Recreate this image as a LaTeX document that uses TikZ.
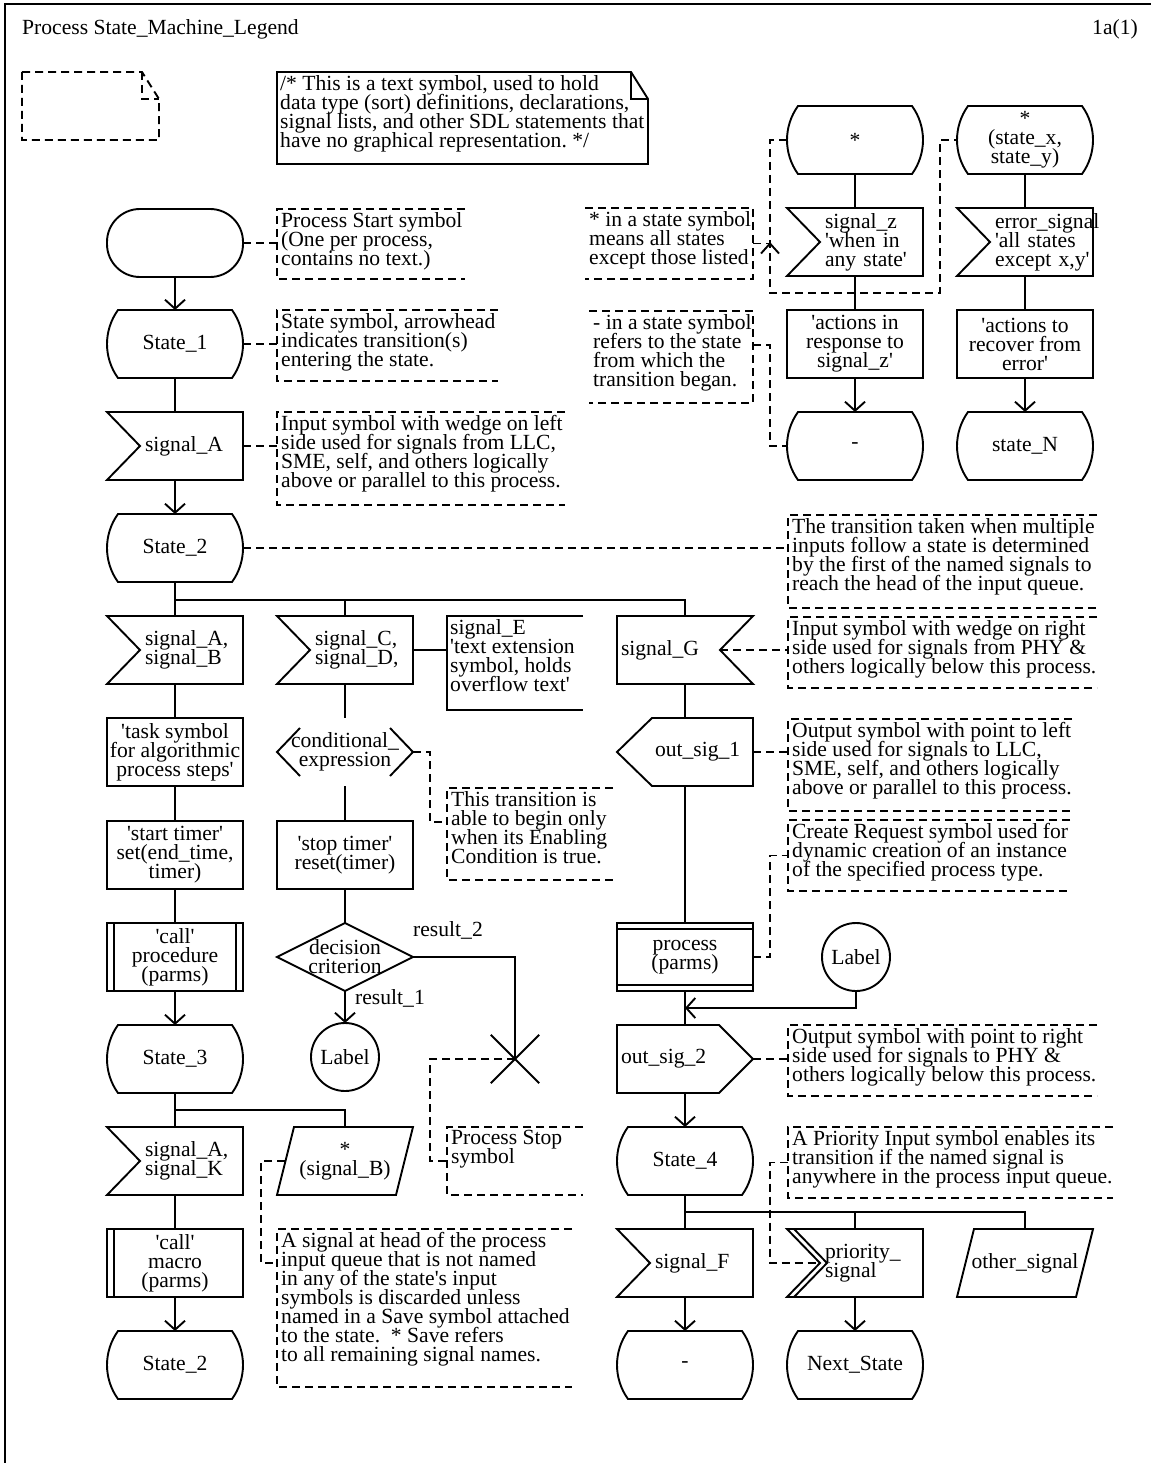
\documentclass[tikz,border=0pt]{standalone}
\usepackage{fontspec}
\setmainfont{Liberation Serif}
\usetikzlibrary{arrows.meta,positioning,calc}
\frenchspacing
\newcommand{\sdlfont}{\fontsize{21.6pt}{19pt}\selectfont\lineskiplimit=-40pt\relax}
\newcommand{\sq}{\textquotesingle}
\tikzset{
  sdlsym/.style={
    rectangle,
    minimum width=136pt,
    minimum height=68pt,
    inner sep=0pt,
    outer sep=0pt,
    align=center,
    font=\sdlfont
  },
  taskbox/.style={sdlsym, draw, line width=1.9pt},
  intext/.style={text width=136pt, align=left, execute at begin node={\leftskip=#1\relax}},
  labelcirc/.style={circle, draw, line width=1.9pt, minimum size=68pt, inner sep=0pt, outer sep=0pt, font=\sdlfont},
  boxarea/.style 2 args={rectangle, anchor=north west, minimum width=#1, minimum height=#2, inner sep=0pt, outer sep=0pt},
  notetext/.style={anchor=north west, align=left, font=\sdlfont, inner xsep=4pt, inner ysep=3pt},
  plaintext/.style={font=\sdlfont, inner sep=0pt},
  sdlline/.style={line width=1.9pt},
  flow/.style={sdlline, -{Straight Barb[length=9pt, width=20pt]}},
  cmt/.style={sdlline, dash pattern=on 8pt off 5pt}
}

\begin{document}
\begin{tikzpicture}[x=1pt, y=-1pt, node distance=34pt]
\useasboundingbox (0,0) rectangle (1151,1463);
\draw[line width=2.4pt] (5,1463) -- (5,4) -- (1151,4);

% heading
\node[plaintext, anchor=west] (title) at (22,29) {Process State\_Machine\_Legend};
\node[plaintext, anchor=east] (page) at (1138,29) {1a(1)};

% text symbols
\node[boxarea={137pt}{68pt}] (blank) at (22,72) {};
\node[boxarea={371pt}{92pt}] (txtsym) at (277,72) {};
\node[notetext, inner xsep=3pt] (txtsymT) at (txtsym.north west) {/* This is a text symbol, used to hold\\data type (sort) definitions, declarations,\\signal lists, and other SDL statements that\\have no graphical representation. */};

% left column
\node[sdlsym, draw, sdlline, rounded corners=33pt] (start) at (175,243) {};
\node[sdlsym, below=33pt of start] (state1) {State\_1};
\node[sdlsym, intext=38pt, below=of state1] (sigA) {signal\_A};
\node[sdlsym, below=of sigA] (state2) {State\_2};
\node[sdlsym, intext=38pt, below=of state2] (sigAB) {signal\_A,\\signal\_B};
\node[taskbox, below=of sigAB] (task) {\sq task symbol\\for algorithmic\\process steps\sq};
\node[taskbox, below=35pt of task] (timer) {\sq start timer\sq\\set(end\_time,\\timer)};
\node[taskbox, below=of timer] (call) {\sq call\sq\\procedure\\(parms)};
\node[sdlsym, below=of call] (state3) {State\_3};
\node[sdlsym, intext=38pt, below=of state3] (sigAK) {signal\_A,\\signal\_K};
\node[taskbox, below=of sigAK] (macro) {\sq call\sq\\macro\\(parms)};
\node[sdlsym, below=of macro] (state2b) {State\_2};

% middle column
\node[sdlsym, intext=38pt] (sigCD) at (345,650) {signal\_C,\\signal\_D,};
\node[sdlsym, below=of sigCD] (enab) {conditional\_\\expression};
\node[taskbox, below=35pt of enab] (stopt) {\sq stop timer\sq\\reset(timer)};
\node[sdlsym, below=of stopt] (dec) {decision\\criterion};
\node[labelcirc, below=32pt of dec] (lab1) {Label};
\node[minimum size=48pt, inner sep=0pt] (stop) at (515,1059) {};
\node[sdlsym] (save) at (345,1161) {*\\(signal\_B)};
\node[plaintext, anchor=west] (res2) at ([yshift=27pt]dec.east) {result\_2};
\node[plaintext, anchor=west] (res1) at ([xshift=10pt,yshift=-7pt]dec.south) {result\_1};
\node[boxarea={136pt}{94pt}] (ext) at ([xshift=34pt]sigCD.north east) {};
\node[notetext, inner xsep=3pt] (extT) at (ext.north west) {signal\_E\\\sq text extension\\symbol, holds\\overflow text\sq};

% right column
\node[sdlsym, intext=4pt] (sigG) at (685,650) {signal\_G};
\node[sdlsym, intext=38pt, below=of sigG] (out1) {out\_sig\_1};
\node[taskbox] (create) at (685,957) {process\\(parms)};
\node[labelcirc] (labR) at (856,957) {Label};
\node[sdlsym, intext=4pt, below=of create] (out2) {out\_sig\_2};
\node[sdlsym, below=of out2] (state4) {State\_4};
\node[sdlsym, intext=38pt, below=of state4] (sigF) {signal\_F};
\node[sdlsym, below=of sigF] (stDash2) {-};
\node[sdlsym, intext=38pt, right=of sigF] (prio) {priority\_\\signal};
\node[sdlsym, below=of prio] (nextSt) {Next\_State};
\node[sdlsym, right=of prio] (other) {other\_signal};

% top right
\node[sdlsym] (stStar) at (855,140) {*};
\node[sdlsym, intext=38pt, below=of stStar] (sigZ) {signal\_z\\\sq when in\\any state\sq};
\node[taskbox, below=of sigZ] (act1) {\sq actions in\\response to\\signal\_z\sq};
\node[sdlsym, below=of act1] (stDash) {-};
\node[sdlsym, right=of stStar] (stXY) {*\\(state\_x,\\state\_y)};
\node[sdlsym, intext=38pt, below=of stXY] (errSig) {error\_signal\\\sq all states\\except x,y\sq};
\node[taskbox, below=of errSig] (act2) {\sq actions to\\recover from\\error\sq};
\node[sdlsym, below=of act2] (stN) {state\_N};

% comments
\node[boxarea={188pt}{70pt}] (cStart) at (277,209) {};
\node[notetext] (cStartT) at (cStart.north west) {Process Start symbol\\(One per process,\\contains no text.)};
\node[boxarea={221pt}{71pt}] (cState) at (277,310) {};
\node[notetext] (cStateT) at (cState.north west) {State symbol, arrowhead\\indicates transition(s)\\entering the state.};
\node[boxarea={288pt}{93pt}] (cInL) at (277,412) {};
\node[notetext] (cInLT) at (cInL.north west) {Input symbol with wedge on left\\side used for signals from LLC,\\SME, self, and others logically\\above or parallel to this process.};
\node[boxarea={309pt}{93pt}] (cTrans) at (788,515) {};
\node[notetext] (cTransT) at (cTrans.north west) {The transition taken when multiple\\inputs follow a state is determined\\by the first of the named signals to\\reach the head of the input queue.};
\node[boxarea={309pt}{71pt}] (cInR) at (788,617) {};
\node[notetext] (cInRT) at (cInR.north west) {Input symbol with wedge on right\\side used for signals from PHY \&\\others logically below this process.};
\node[boxarea={284pt}{92pt}] (cOutL) at (788,719) {};
\node[notetext] (cOutLT) at (cOutL.north west) {Output symbol with point to left\\side used for signals to LLC,\\SME, self, and others logically\\above or parallel to this process.};
\node[boxarea={282pt}{71pt}] (cCreate) at (788,820) {};
\node[notetext] (cCreateT) at (cCreate.north west) {Create Request symbol used for\\dynamic creation of an instance\\of the specified process type.};
\node[boxarea={309pt}{71pt}] (cOutR) at (788,1025) {};
\node[notetext] (cOutRT) at (cOutR.north west) {Output symbol with point to right\\side used for signals to PHY \&\\others logically below this process.};
\node[boxarea={325pt}{71pt}] (cPrio) at (788,1127) {};
\node[notetext] (cPrioT) at (cPrio.north west) {A Priority Input symbol enables its\\transition if the named signal is\\anywhere in the process input queue.};
\node[boxarea={168pt}{71pt}] (cAll) at (585,208) {};
\node[notetext] (cAllT) at (cAll.north west) {* in a state symbol\\means all states\\except those listed};
\node[boxarea={164pt}{92pt}] (cDash) at (589,311) {};
\node[notetext] (cDashT) at (cDash.north west) {- in a state symbol\\refers to the state\\from which the\\transition began.};
\node[boxarea={166pt}{92pt}] (cEnab) at (447,788) {};
\node[notetext] (cEnabT) at (cEnab.north west) {This transition is\\able to begin only\\when its Enabling\\Condition is true.};
\node[boxarea={136pt}{68pt}] (cStop) at (447,1127) {};
\node[notetext] (cStopT) at (cStop.north west) {Process Stop\\symbol};
\node[boxarea={295pt}{158pt}] (cSave) at (277,1229) {};
\node[notetext] (cSaveT) at (cSave.north west) {A signal at head of the process\\input queue that is not named\\in any of the state\sq s input\\symbols is discarded unless\\named in a Save symbol attached\\to the state.\ \ * Save refers\\to all remaining signal names.};

% symbol outlines
\foreach \n in {state1,state2,state3,state2b,state4,stDash2,nextSt,stStar,stXY,stDash,stN}
  \draw[sdlline] ([xshift=11pt]\n.north west) -- ([xshift=-11pt]\n.north east)
    .. controls ([xshift=-3.8pt,yshift=-9.9pt]\n.north east) and ([yshift=12pt]\n.east) .. (\n.east)
    .. controls ([yshift=-12pt]\n.east) and ([xshift=-3.8pt,yshift=9.9pt]\n.south east) .. ([xshift=-11pt]\n.south east)
    -- ([xshift=11pt]\n.south west)
    .. controls ([xshift=3.8pt,yshift=9.9pt]\n.south west) and ([yshift=-12pt]\n.west) .. (\n.west)
    .. controls ([yshift=12pt]\n.west) and ([xshift=3.8pt,yshift=-9.9pt]\n.north west) .. ([xshift=11pt]\n.north west) -- cycle;
\foreach \n in {sigA,sigAB,sigCD,sigAK,sigF,sigZ,errSig,prio}
  \draw[sdlline] (\n.north west) -- (\n.north east) -- (\n.south east) -- (\n.south west) -- ([xshift=33pt]\n.west) -- cycle;
\draw[sdlline] ([xshift=7pt]prio.north west) -- ([xshift=40pt]prio.west) -- ([xshift=7pt]prio.south west);
\draw[sdlline] (sigG.north west) -- (sigG.north east) -- ([xshift=-33pt]sigG.east) -- (sigG.south east) -- (sigG.south west) -- cycle;
\draw[sdlline] ([xshift=35pt]out1.north west) -- (out1.north east) -- (out1.south east) -- ([xshift=35pt]out1.south west) -- (out1.west) -- cycle;
\draw[sdlline] (out2.north west) -- ([xshift=-34pt]out2.north east) -- (out2.east) -- ([xshift=-34pt]out2.south east) -- (out2.south west) -- cycle;
\foreach \n in {save,other}
  \draw[sdlline] ([xshift=17pt]\n.north west) -- (\n.north east) -- ([xshift=-17pt]\n.south east) -- (\n.south west) -- cycle;
\draw[sdlline] ([xshift=23pt,yshift=24pt]enab.west) -- (enab.west) -- ([xshift=23pt,yshift=-24pt]enab.west)
  ([xshift=-23pt,yshift=24pt]enab.east) -- (enab.east) -- ([xshift=-23pt,yshift=-24pt]enab.east);
\draw[sdlline] (dec.north) -- (dec.east) -- (dec.south) -- (dec.west) -- cycle;
\draw[sdlline] (stop.north west) -- (stop.south east) (stop.north east) -- (stop.south west);
\draw[sdlline] ([xshift=7pt]call.north west) -- ([xshift=7pt]call.south west)
  ([xshift=-7pt]call.north east) -- ([xshift=-7pt]call.south east);
\draw[sdlline] ([xshift=7pt]macro.north west) -- ([xshift=7pt]macro.south west);
\draw[sdlline] ([yshift=-6pt]create.north west) -- ([yshift=-6pt]create.north east)
  ([yshift=6pt]create.south west) -- ([yshift=6pt]create.south east);
\draw[sdlline] (ext.north east) -- (ext.north west) -- (ext.south west) -- (ext.south east);
\draw[sdlline] (txtsym.north west) -- ([xshift=-17pt]txtsym.north east) -- ([yshift=-27pt]txtsym.north east) -- (txtsym.south east) -- (txtsym.south west) -- cycle;
\draw[sdlline] ([xshift=-17pt]txtsym.north east) -- ([xshift=-17pt,yshift=-27pt]txtsym.north east) -- ([yshift=-27pt]txtsym.north east);
\draw[cmt] (blank.north west) -- ([xshift=-17pt]blank.north east) -- ([yshift=-27pt]blank.north east) -- (blank.south east) -- (blank.south west) -- cycle;
\draw[cmt] ([xshift=-17pt]blank.north east) -- ([xshift=-17pt,yshift=-27pt]blank.north east) -- ([yshift=-27pt]blank.north east);
\foreach \c in {cStart,cState,cInL,cTrans,cInR,cOutL,cCreate,cOutR,cPrio,cEnab,cStop,cSave}
  \draw[cmt] (\c.north east) -- (\c.north west) -- (\c.south west) -- (\c.south east);
\foreach \c in {cAll,cDash}
  \draw[cmt] (\c.north west) -- (\c.north east) -- (\c.south east) -- (\c.south west);

% flow lines
\draw[flow] (start) -- (state1);
\draw[sdlline] (state1) -- (sigA);
\draw[flow] (sigA) -- (state2);
\draw[sdlline] (state2) -- (sigAB);
\coordinate[below=18pt of state2.south] (bus1);
\draw[sdlline] (bus1) -| (sigCD.north);
\draw[sdlline] (bus1) -| (sigG.north);
\draw[sdlline] (sigAB) -- (task);
\draw[sdlline] (task) -- (timer);
\draw[sdlline] (timer) -- (call);
\draw[flow] (call) -- (state3);
\draw[sdlline] (state3) -- (sigAK);
\coordinate[below=17pt of state3.south] (bus2);
\draw[sdlline] (bus2) -| (save.north);
\draw[sdlline] (sigAK) -- (macro);
\draw[flow] (macro) -- (state2b);

\draw[sdlline] (sigCD.east) -- (sigCD.east -| ext.west);
\draw[sdlline] (sigCD) -- (enab);
\draw[sdlline] (enab) -- (stopt);
\draw[sdlline] (stopt) -- (dec);
\draw[flow] (dec) -- (lab1);
\draw[sdlline] (dec.east) -| (stop.center);

\draw[sdlline] (sigG) -- (out1);
\draw[sdlline] (out1) -- (create);
\draw[sdlline] (create) -- (out2);
\coordinate[below=17pt of create.south] (join);
\draw[flow] (labR.south) |- (join);
\draw[flow] (out2) -- (state4);
\coordinate[below=17pt of state4.south] (bus3);
\draw[sdlline] (state4) -- (sigF);
\draw[sdlline] (bus3) -| (prio.north);
\draw[sdlline] (bus3) -| (other.north);
\draw[flow] (sigF) -- (stDash2);
\draw[flow] (prio) -- (nextSt);

\draw[sdlline] (stStar) -- (sigZ);
\draw[sdlline] (sigZ) -- (act1);
\draw[flow] (act1) -- (stDash);
\draw[sdlline] (stXY) -- (errSig);
\draw[sdlline] (errSig) -- (act2);
\draw[flow] (act2) -- (stN);

% comment links
\draw[cmt] (start.east) -- (start.east -| cStart.west);
\draw[cmt] (state1.east) -- (state1.east -| cState.west);
\draw[cmt] (sigA.east) -- (sigA.east -| cInL.west);
\draw[cmt] (state2.east) -- (state2.east -| cTrans.west);
\draw[cmt] ([xshift=-33pt]sigG.east) -- (sigG.east -| cInR.west);
\draw[cmt] (out1.east) -- (out1.east -| cOutL.west);
\draw[cmt] (create.east) -- ++(17,0) |- (cCreate.west);
\draw[cmt] (out2.east) -- (out2.east -| cOutR.west);
\draw[cmt] (cPrio.west) -- ++(-18,0) |- ([xshift=33pt]prio.west);
\draw[cmt] (enab.east) -- ++(17,0) |- ([yshift=-34pt]cEnab.north west);
\draw[cmt] (stop.center) -- ++(-85,0) |- (cStop.west);
\draw[cmt] ([xshift=8pt]save.west) -- ++(-24,0) |- ([yshift=-34pt]cSave.north west);
\coordinate (frameL) at (770,293);
\coordinate (frameR) at (940,293);
\draw[cmt] (stStar.west) -| (frameL) -- (frameR) |- (stXY.west);
\coordinate (allTip) at (cAll.east -| frameL);
\draw[cmt] (cAll.east) -- (allTip);
\draw[sdlline] ([shift={(-9,10)}]allTip) -- (allTip) -- ([shift={(9,10)}]allTip);
\draw[cmt] ([yshift=-34pt]cDash.north east) -- ++(17,0) |- (stDash.west);
\end{tikzpicture}
\end{document}
